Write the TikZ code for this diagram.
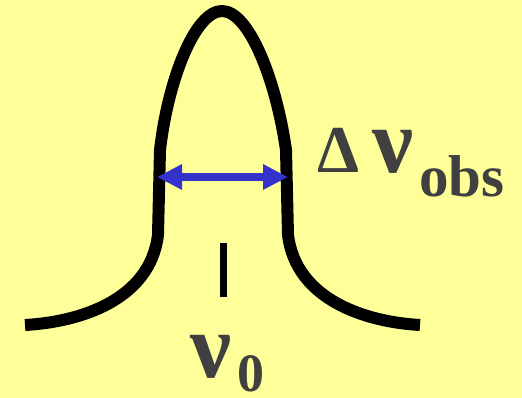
\documentclass[tikz,border=0pt]{standalone}
\usepackage{fontspec}
\setmainfont{Liberation Serif}
\usetikzlibrary{arrows.meta, positioning}
\definecolor{bgyellow}{RGB}{255,255,153}
\definecolor{arrowblue}{RGB}{51,51,204}
\definecolor{labelgray}{RGB}{64,64,64}

\begin{document}
\begin{tikzpicture}[x=1pt, y=-1pt,
    curve/.style={line width=12pt, line join=round},
    textlabel/.style={text=labelgray, inner sep=0pt}]
    % background
    \fill[bgyellow] (0,0) rectangle (522,398);
    \clip (0,0) rectangle (522,398);

    % spectral line
    \draw[curve] (25,325) .. controls (80,322) and (150,300) .. (158,235)
        -- (160,150) .. controls (168,80) and (195,11) .. (222,11)
        .. controls (249,11) and (276,80) .. (286,150)
        -- (288,235) .. controls (296,300) and (366,322) .. (420,325);

    % line centre mark
    \coordinate (tick top) at (223,243);
    \coordinate (tick bottom) at (223,297);
    \draw[line width=7pt] (tick top) -- (tick bottom);

    % width arrow
    \coordinate (left edge) at (157,177);
    \coordinate (right edge) at (288,177);
    \draw[arrowblue, line width=8pt, {Triangle[length=25pt,width=24pt]}-{Triangle[length=25pt,width=24pt]}] (left edge) -- (right edge);

    % labels
    \node[textlabel, font=\bfseries, anchor=base west] (delta) at (317,173) {\fontsize{67}{67}\selectfont Δ};
    \node[textlabel, font=\bfseries, anchor=base west] (nuobs) at (372,173) {\fontsize{92}{92}\selectfont ν};
    \node[textlabel, font=\bfseries, anchor=base west] (obs) at (419,197) {\fontsize{59}{59}\selectfont obs};
    \node[textlabel, font=\bfseries, anchor=base west] (nuzero) at (190,377) {\fontsize{92}{92}\selectfont ν};
    \node[textlabel, font=\bfseries, anchor=base west] (zero) at (237,391) {\fontsize{54}{54}\selectfont 0};
\end{tikzpicture}
\end{document}
